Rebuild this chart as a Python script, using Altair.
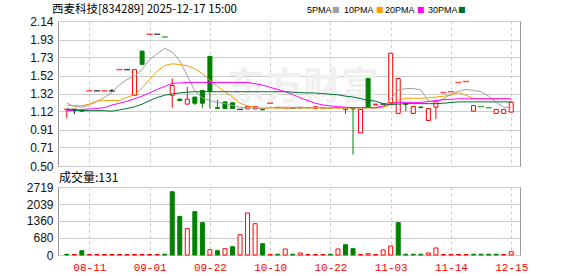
import altair as alt
import pandas as pd

# ---------------- data ----------------
idx = list(range(60))
opens = [1.14, 1.14, 1.13, 1.35, 1.35, 1.35, 1.35, 1.59, 1.59, 1.30,
         1.80, 1.99, 1.99, 1.96, 1.30, 1.255, 1.20, 1.28, 1.355, 1.74,
         1.16, 1.225, 1.215, 1.14, 1.145, 1.145, 1.14, 1.21, 1.16, 1.155,
         1.155, 1.16, 1.16, 1.15, 1.155, 1.155, 1.16, 1.14, 1.15, 0.875,
         1.49, 1.19, 1.20, 1.215, 1.095, 1.205, 1.095, 1.168, 1.015, 1.165,
         1.33, 1.34, 1.445, 1.455, 1.12, 1.172, 1.16, 1.095, 1.095, 1.11]
closes = [1.14, 1.14, 1.12, 1.35, 1.35, 1.35, 1.35, 1.59, 1.59, 1.59,
          1.65, 1.99, 1.99, 1.96, 1.41, 1.24, 1.255, 1.21, 1.21, 1.345,
          1.15, 1.15, 1.15, 1.14, 1.172, 1.172, 1.135, 1.21, 1.16, 1.155,
          1.155, 1.16, 1.16, 1.17, 1.155, 1.155, 1.16, 1.16, 1.145, 1.14,
          1.165, 1.20, 1.20, 1.775, 1.49, 1.198, 1.172, 1.16, 1.15, 1.228,
          1.33, 1.34, 1.445, 1.455, 1.183, 1.172, 1.16, 1.14, 1.14, 1.22]
highs = [1.14, 1.14, 1.13, 1.35, 1.35, 1.35, 1.37, 1.59, 1.59, 1.59,
         1.80, 1.99, 1.99, 1.96, 1.49, 1.265, 1.395, 1.28, 1.355, 1.745,
         1.25, 1.225, 1.215, 1.14, 1.172, 1.172, 1.155, 1.21, 1.16, 1.155,
         1.155, 1.16, 1.16, 1.17, 1.155, 1.155, 1.16, 1.16, 1.15, 1.14,
         1.49, 1.20, 1.20, 1.775, 1.49, 1.205, 1.172, 1.168, 1.15, 1.24,
         1.33, 1.34, 1.445, 1.455, 1.183, 1.172, 1.16, 1.14, 1.14, 1.22]
lows = [1.04, 1.09, 1.12, 1.35, 1.35, 1.35, 1.34, 1.59, 1.59, 1.30,
        1.65, 1.99, 1.99, 1.96, 1.16, 1.235, 1.20, 1.19, 1.155, 1.15,
        1.15, 1.15, 1.15, 1.14, 1.145, 1.145, 1.135, 1.21, 1.16, 1.155,
        1.155, 1.16, 1.16, 1.15, 1.155, 1.155, 1.16, 1.09, 0.63, 0.875,
        1.165, 1.19, 1.20, 1.215, 1.095, 1.12, 1.095, 1.16, 1.015, 1.03,
        1.33, 1.34, 1.445, 1.455, 1.12, 1.172, 1.16, 1.095, 1.095, 1.11]
candle_dir = ["r", "k", "g", "r", "k", "r", "k", "r", "k", "r",
              "g", "r", "k", "g", "r", "g", "r", "g", "g", "g",
              "g", "g", "g", "k", "r", "r", "g", "r", "k", "r",
              "k", "k", "g", "r", "r", "g", "r", "r", "g", "r",
              "g", "r", "k", "r", "r", "g", "r", "g", "r", "r",
              "r", "r", "r", "r", "r", "g", "g", "r", "r", "r"]
volume = [30, 20, 170, 20, 20, 20, 20, 20, 20, 20,
          20, 20, 20, 30, 2530, 1545, 1052, 1732, 1292, 212,
          172, 252, 332, 812, 1680, 1252, 452, 20, 30, 240,
          30, 80, 20, 20, 20, 30, 240, 412, 252, 20,
          52, 20, 200, 360, 1292, 30, 30, 30, 80, 280,
          20, 20, 20, 20, 30, 30, 30, 30, 20, 131]
volume_dir = ["g", "r", "g", "r", "r", "r", "r", "r", "r", "r",
              "r", "r", "r", "g", "g", "g", "r", "g", "g", "r",
              "g", "r", "g", "r", "r", "r", "g", "r", "g", "r",
              "g", "r", "r", "r", "r", "g", "r", "g", "g", "r",
              "r", "r", "r", "r", "g", "g", "g", "g", "r", "r",
              "r", "r", "r", "r", "g", "g", "g", "g", "r", "r"]
ma5 = [1.21, 1.175, 1.164, 1.19, 1.23, 1.277, 1.33, 1.42, 1.478, 1.516,
       1.59, 1.705, 1.77, 1.83, 1.79, 1.69, 1.52, 1.35, 1.27, 1.24,
       1.22, 1.205, 1.187, 1.165, 1.156, 1.156, 1.15, 1.16, 1.165, 1.165,
       1.165, 1.165, 1.16, 1.16, 1.16, 1.16, 1.16, 1.16, 1.16, 1.16,
       1.16, 1.16, 1.16, 1.26, 1.36, 1.376, 1.376, 1.36, 1.235, 1.225,
       1.26, 1.31, 1.345, 1.365, 1.355, 1.34, 1.29, 1.22, 1.165, 1.165]
ma10 = [1.183, 1.183, 1.183, 1.20, 1.235, 1.24, 1.24, 1.24, 1.277, 1.308,
        1.383, 1.478, 1.573, 1.637, 1.656, 1.648, 1.635, 1.60, 1.545, 1.47,
        1.40, 1.34, 1.28, 1.21, 1.18, 1.165, 1.156, 1.156, 1.156, 1.156,
        1.156, 1.156, 1.156, 1.156, 1.156, 1.156, 1.156, 1.156, 1.156, 1.156,
        1.156, 1.156, 1.164, 1.194, 1.245, 1.266, 1.266, 1.266, 1.27, 1.28,
        1.29, 1.30, 1.33, 1.30, 1.265, 1.26, 1.26, 1.26, 1.26, 1.26]
ma20 = [1.126, 1.13, 1.138, 1.145, 1.15, 1.16, 1.19, 1.21, 1.232, 1.26,
        1.29, 1.327, 1.365, 1.40, 1.435, 1.44, 1.445, 1.445, 1.445, 1.445,
        1.445, 1.445, 1.445, 1.445, 1.445, 1.43, 1.415, 1.39, 1.365, 1.34,
        1.31, 1.27, 1.24, 1.21, 1.19, 1.18, 1.17, 1.165, 1.16, 1.16,
        1.16, 1.16, 1.18, 1.205, 1.22, 1.22, 1.22, 1.22, 1.228, 1.24,
        1.25, 1.255, 1.26, 1.26, 1.26, 1.26, 1.26, 1.26, 1.26, 1.26]
ma30 = [1.149, 1.13, 1.126, 1.126, 1.126, 1.126, 1.12, 1.135, 1.15, 1.17,
        1.20, 1.24, 1.275, 1.30, 1.315, 1.327, 1.335, 1.34, 1.34, 1.34,
        1.34, 1.34, 1.34, 1.34, 1.34, 1.34, 1.34, 1.34, 1.34, 1.34,
        1.335, 1.33, 1.327, 1.325, 1.318, 1.312, 1.305, 1.29, 1.28, 1.262,
        1.245, 1.232, 1.205, 1.195, 1.20, 1.205, 1.205, 1.205, 1.205, 1.205,
        1.21, 1.218, 1.225, 1.225, 1.225, 1.225, 1.225, 1.225, 1.225, 1.225]

date_ticks = [3, 11, 19, 27, 35, 43, 51, 59]
date_labels = ["08-11", "09-01", "09-22", "10-10", "10-22", "11-03", "11-14", "12-15"]
price_ticks = [0.50, 0.71, 0.91, 1.12, 1.32, 1.52, 1.73, 1.93, 2.14]
volume_ticks = [0, 680, 1360, 2039, 2719]
ma_names = ["5PMA", "10PMA", "20PMA", "30PMA"]
title_text = "西麦科技[834289] 2025-12-17 15:00"
volume_title = "成交量:131"
watermark = "东方财富"

# ---------------- styling ----------------
RED, GREEN, BLACK = "#ff0000", "#008000", "#000000"
MA_COLORS = ["#a0a0a0", "#f5a000", "#ff00ff", "#007030"]
GRID = "#cccccc"
CJK = "Noto Sans CJK SC"

df = pd.DataFrame({"i": idx, "open": opens, "close": closes, "high": highs,
                   "low": lows, "c": candle_dir, "v": volume, "vc": volume_dir,
                   "ma5": ma5, "ma10": ma10, "ma20": ma20, "ma30": ma30})

stroke_scale = alt.Scale(domain=["r", "g", "k"], range=[RED, GREEN, BLACK])
fill_scale = alt.Scale(domain=["r", "g", "k"], range=["#ffffff", GREEN, BLACK])

x_scale = alt.Scale(domain=[-0.5, 59.5], nice=False, zero=False)
label_expr = "[" + ",".join("'%s'" % d for d in date_labels) + "][(datum.value-3)/8]"

x_top = alt.X("i:Q", scale=x_scale, title=None,
              axis=alt.Axis(values=date_ticks, labels=False, ticks=False, domain=False,
                            grid=True, gridDash=[3, 3], gridColor=GRID))
x_bot = alt.X("i:Q", scale=x_scale, title=None,
              axis=alt.Axis(values=date_ticks, labelExpr=label_expr, ticks=False, domain=False,
                            grid=True, gridDash=[3, 3], gridColor=GRID,
                            labelColor=RED, labelFont="Liberation Mono", labelFontSize=11,
                            labelPadding=6, labelFlush=False, labelOverlap=False))

y_price_axis = alt.Axis(values=price_ticks, format=".2f", grid=True, gridColor=GRID,
                        ticks=False, domain=False, labelPadding=5,
                        minExtent=40, maxExtent=40, labelOverlap=False)
y_price_scale = alt.Scale(domain=[0.50, 2.14], nice=False, zero=False)

base = alt.Chart(df)

wm = alt.Chart(pd.DataFrame({"t": [watermark]})).mark_text(
    font=CJK, fontSize=38, fontWeight="bold", color="#f0f0f0", align="center", baseline="middle"
).encode(text="t:N", x=alt.value(245), y=alt.value(67))

wicks = base.mark_rule(strokeWidth=1).encode(
    x=x_top,
    y=alt.Y("low:Q", scale=y_price_scale, axis=y_price_axis, title=None),
    y2="high:Q",
    color=alt.Color("c:N", scale=stroke_scale, legend=None))

bodies = base.transform_filter("datum.open != datum.close").mark_bar(size=4, strokeWidth=1).encode(
    x=x_top,
    y=alt.Y("open:Q", scale=y_price_scale, axis=y_price_axis, title=None),
    y2="close:Q",
    fill=alt.Fill("c:N", scale=fill_scale, legend=None),
    stroke=alt.Stroke("c:N", scale=stroke_scale, legend=None))

dojis = base.transform_filter("datum.open == datum.close").mark_tick(
    orient="horizontal", size=6, thickness=1.5).encode(
    x=x_top,
    y=alt.Y("close:Q", scale=y_price_scale, axis=y_price_axis, title=None),
    color=alt.Color("c:N", scale=stroke_scale, legend=None))

ma_layers = []
for col, clr in zip(["ma5", "ma10", "ma20", "ma30"], MA_COLORS):
    ma_layers.append(base.mark_line(strokeWidth=1, color=clr).encode(
        x=x_top, y=alt.Y(col + ":Q", scale=y_price_scale, axis=y_price_axis, title=None)))

title_layer = alt.Chart(pd.DataFrame({"t": [title_text]})).mark_text(
    font=CJK, fontSize=11.5, align="left", baseline="middle", color="#000"
).encode(text="t:N", x=alt.value(-6), y=alt.value(-11))

legend_text_x = [249, 286, 327, 370]
legend_sq_x = [274, 318, 359, 400]
legend_layers = []
for name, clr, tx, sx in zip(ma_names, MA_COLORS, legend_text_x, legend_sq_x):
    legend_layers.append(alt.Chart(pd.DataFrame({"t": [name]})).mark_text(
        font="Liberation Sans", fontSize=9, align="left",
        baseline="middle", color="#000").encode(text="t:N", x=alt.value(tx), y=alt.value(-11)))
    legend_layers.append(alt.Chart(pd.DataFrame({"t": ["\u25a0"]})).mark_text(
        font="DejaVu Sans", fontSize=8, align="left", baseline="middle", color=clr
    ).encode(text="t:N", x=alt.value(sx), y=alt.value(-11)))

top = alt.layer(wm, wicks, bodies, dojis, *ma_layers, title_layer, *legend_layers).properties(
    width=462, height=145)

vol_bars = base.mark_bar(size=4, strokeWidth=1).encode(
    x=x_bot,
    y=alt.Y("v:Q", scale=alt.Scale(domain=[0, 2719], nice=False), title=None,
            axis=alt.Axis(values=volume_ticks, format="d", grid=True, gridColor=GRID, ticks=False,
                          domain=False, labelPadding=5, minExtent=40, maxExtent=40,
                          labelOverlap=False)),
    fill=alt.Fill("vc:N", scale=fill_scale, legend=None),
    stroke=alt.Stroke("vc:N", scale=stroke_scale, legend=None))

vol_title = alt.Chart(pd.DataFrame({"t": [volume_title]})).mark_text(
    font=CJK, fontSize=12, align="left", baseline="middle", color="#000"
).encode(text="t:N", x=alt.value(1), y=alt.value(-9))

bottom = alt.layer(vol_bars, vol_title).properties(width=462, height=68)

chart = alt.vconcat(top, bottom, spacing=21, bounds="flush").properties(
    padding={"left": 17, "top": 3, "right": 5, "bottom": 3},
    background="#ffffff"
).configure_view(stroke="#999999", strokeWidth=1).configure_axis(
    labelFont="Liberation Sans", labelFontSize=12, labelColor="#111111"
)

chart.save("out.html", embed_options={"renderer": "svg", "actions": False})
